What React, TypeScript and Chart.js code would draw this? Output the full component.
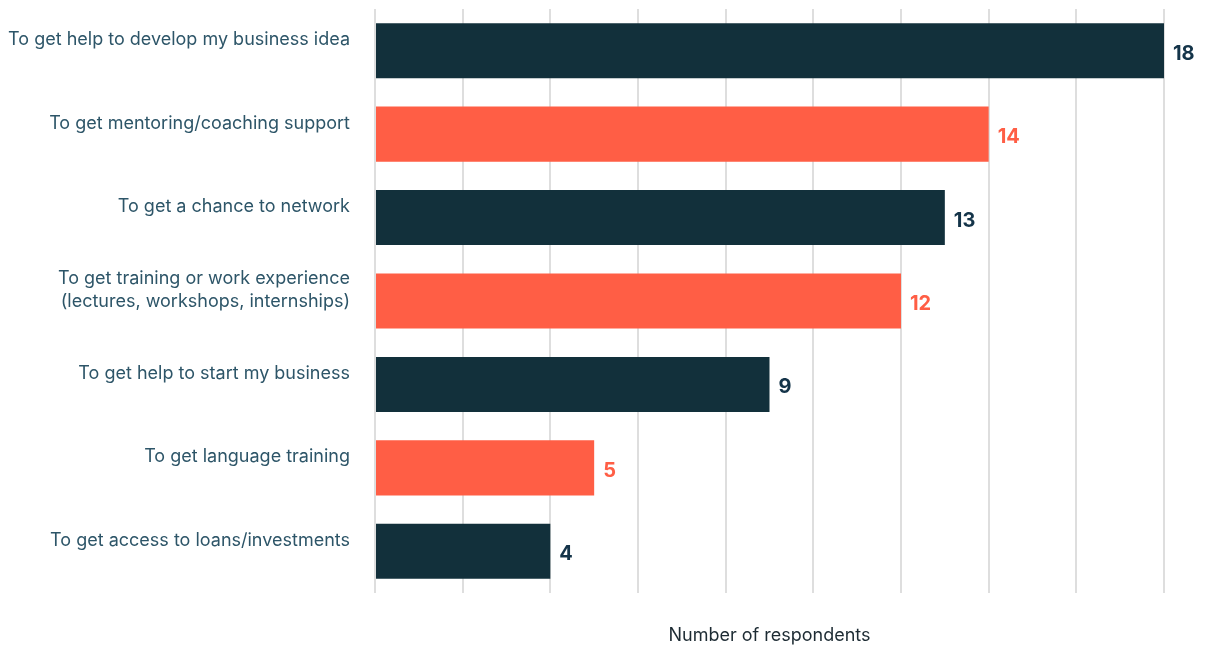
import React, { useEffect, useRef } from "react";
import { Chart, registerables } from "chart.js";

Chart.register(...registerables);

const categories: (string | string[])[] = [
  "To get help to develop my business idea",
  "To get mentoring/coaching support",
  "To get a chance to network",
  ["To get training or work experience", "(lectures, workshops, internships)"],
  "To get help to start my business",
  "To get language training",
  "To get access to loans/investments",
];
const values = [18, 14, 13, 12, 9, 5, 4];
const barColors = ["#12303b", "#ff5e45", "#12303b", "#ff5e45", "#12303b", "#ff5e45", "#12303b"];
const valueColors = ["#143449", "#ff5e45", "#143449", "#ff5e45", "#143449", "#ff5e45", "#143449"];
const axisTitle = "Number of respondents";

const valueLabelPlugin = {
  id: "valueLabels",
  afterDatasetsDraw(chart: any) {
    const ctx = chart.ctx;
    const meta = chart.getDatasetMeta(0);
    ctx.save();
    ctx.font = "700 20px Inter";
    ctx.textAlign = "left";
    ctx.textBaseline = "middle";
    meta.data.forEach((el: any, i: number) => {
      ctx.fillStyle = valueColors[i];
      ctx.fillText(String(values[i]), el.x + 9, el.y + 3);
    });
    ctx.restore();
  },
};

export default function App() {
  const ref = useRef<HTMLCanvasElement | null>(null);
  useEffect(() => {
    if (!ref.current) return;
    const chart = new Chart(ref.current, {
      type: "bar",
      data: {
        labels: categories,
        datasets: [
          {
            data: values,
            backgroundColor: barColors,
            borderWidth: 0,
            categoryPercentage: 1,
            barPercentage: 0.66,
          },
        ],
      },
      options: {
        indexAxis: "y",
        animation: false,
        responsive: true,
        maintainAspectRatio: false,
        layout: { padding: { top: 9, right: 53, bottom: 0, left: 0 } },
        plugins: {
          legend: { display: false },
          tooltip: { enabled: false },
        },
        scales: {
          x: {
            min: 0,
            max: 18,
            ticks: { display: false, stepSize: 2 },
            grid: { color: "#dedede", lineWidth: 2, drawTicks: false },
            border: { display: false },
            title: {
              display: true,
              text: axisTitle,
              color: "#1d2b33",
              font: { family: "Inter", size: 18 },
              padding: { top: 0, bottom: 0 },
            },
            afterFit(scale: any) {
              scale.height = 53;
              scale.paddingLeft = 0;
              scale.paddingRight = 0;
            },
          },
          y: {
            grid: { display: false },
            border: { display: false },
            ticks: {
              color: "#2d5568",
              font: { family: "Inter", size: 18, lineHeight: 1.3 },
              padding: 17,
              labelOffset: -11,
            },
            afterFit(scale: any) {
              scale.width = 375;
              scale.paddingTop = 0;
              scale.paddingBottom = 0;
            },
          },
        },
      },
      plugins: [valueLabelPlugin],
    });
    return () => chart.destroy();
  }, []);
  return (
    <div style={{ position: "absolute", left: 0, top: 0, width: 1217, height: 646, background: "#fff" }}>
      <canvas ref={ref} />
    </div>
  );
}
